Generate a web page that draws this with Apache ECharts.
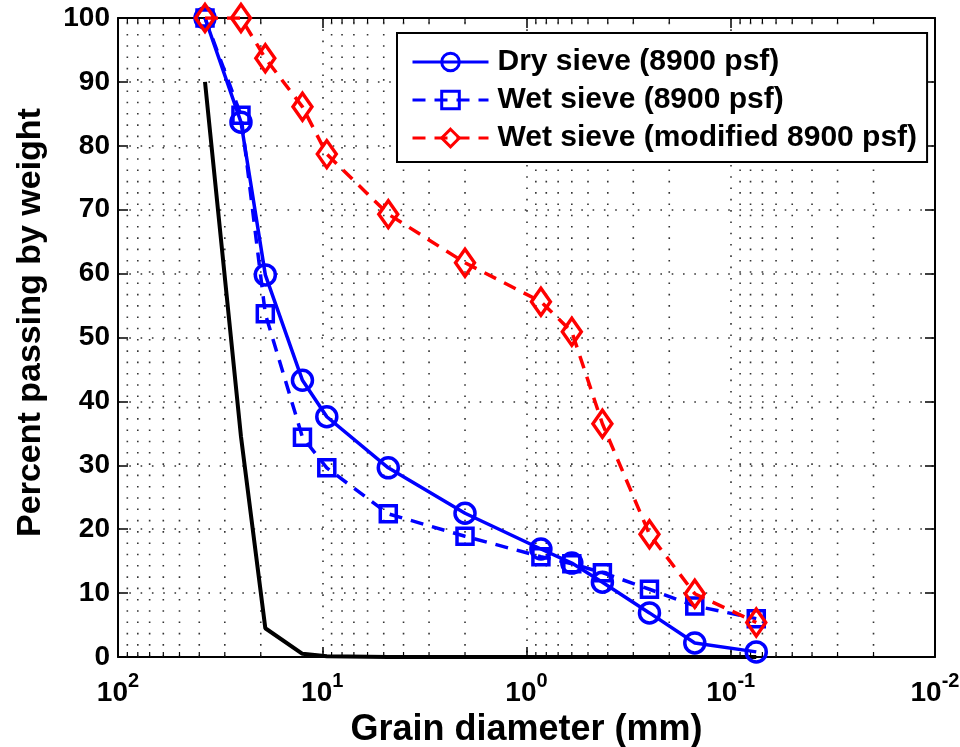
<!DOCTYPE html>
<html>
<head>
<meta charset="utf-8">
<script src="https://cdn.jsdelivr.net/npm/echarts@6/dist/echarts.min.js"></script>
<style>
html,body{margin:0;padding:0;background:#fff;overflow:hidden;}
#chart{width:960px;height:747px;}
</style>
</head>
<body>
<div id="chart"></div>
<script>
// Sieve sizes (grain diameter, mm)
const diameters = [37.5, 25, 19, 12.5, 9.5, 4.75, 2.0, 0.85, 0.6, 0.425, 0.25, 0.15, 0.075];
// Percent passing by weight
const drySieve = [100, 83.7, 59.8, 43.3, 37.6, 29.6, 22.5, 16.9, 14.7, 11.7, 6.9, 2.2, 0.8];
const wetSieve = [100, 84.8, 53.7, 34.4, 29.6, 22.4, 18.9, 15.7, 14.6, 13.2, 10.6, 8.0, 6.0];
const wetModified = [100, 100, 93.7, 86.1, 78.7, 69.3, 61.7, 55.6, 50.9, 36.5, 19.2, 9.9, 5.4];
const referenceCurve = [90, 34.5, 4.5, 0.5, 0.1, 0, 0, 0, 0, 0, 0, 0, 0];
// Series names
const seriesNames = ['Dry sieve (8900 psf)', 'Wet sieve (8900 psf)', 'Wet sieve (modified 8900 psf)'];
// Axis settings
const xMin = 0.01, xMax = 100;
const yMin = 0, yMax = 100, yStep = 10;
const xMinorTicks = [
  0.02,0.03,0.04,0.05,0.06,0.07,0.08,0.09,
  0.2,0.3,0.4,0.5,0.6,0.7,0.8,0.9,
  2,3,4,5,6,7,8,9,
  20,30,40,50,60,70,80,90
];

const FONT = 'Liberation Sans, Arial, sans-serif';
const pair = arr => diameters.map((d, i) => [d, arr[i]]);
const dotted = [1.6, 9.7];
const BLUE = '#0000ff', RED = '#ff0000';

const chart = echarts.init(document.getElementById('chart'), null, {renderer: 'canvas'});

const option = {
  animation: false,
  backgroundColor: '#fff',
  grid: {left: 118, right: 25, top: 18, bottom: 90, containLabel: false, outerBoundsMode: 'none'},
  legend: {
    data: seriesNames,
    orient: 'vertical',
    left: 397,
    top: 33,
    padding: [14, 10, 9, 14],
    itemGap: 8,
    itemWidth: 76,
    itemHeight: 22,
    backgroundColor: '#fff',
    borderColor: '#000',
    borderWidth: 2,
    borderRadius: 0,
    lineStyle: {width: 3},
    itemStyle: {borderWidth: 3},
    textStyle: {fontFamily: FONT, fontWeight: 'bold', fontSize: 30, color: '#000', padding: [0, 0, 0, 4]}
  },
  xAxis: [{
    type: 'log',
    logBase: 10,
    min: xMin,
    max: xMax,
    inverse: true,
    splitNumber: 4,
    name: 'Grain diameter (mm)',
    nameLocation: 'middle',
    nameGap: 51,
    nameTextStyle: {fontFamily: FONT, fontWeight: 'bold', fontSize: 36, color: '#000'},
    axisLine: {show: true, onZero: false, lineStyle: {color: '#000', width: 2}},
    axisTick: {show: true, inside: true, length: 10, lineStyle: {color: '#000', width: 1.5}},
    minorTick: {show: false},
    splitLine: {show: true, lineStyle: {color: '#333', width: 1.6, type: dotted}},
    axisLabel: {
      margin: 14,
      formatter: function (v) {
        const e = Math.round(Math.log10(v));
        return '{b|10}{s|' + e + '}';
      },
      rich: {
        b: {fontFamily: FONT, fontWeight: 'bold', fontSize: 28, color: '#000', lineHeight: 36, verticalAlign: 'bottom'},
        s: {fontFamily: FONT, fontWeight: 'bold', fontSize: 20, color: '#000', lineHeight: 20, verticalAlign: 'top'}
      }
    }
  }, {
    type: 'log',
    logBase: 10,
    min: xMin,
    max: xMax,
    inverse: true,
    splitNumber: 4,
    position: 'top',
    axisLine: {show: true, onZero: false, lineStyle: {color: '#000', width: 2}},
    axisTick: {show: true, inside: true, length: 10, lineStyle: {color: '#000', width: 1.5}},
    axisLabel: {show: false},
    splitLine: {show: false}
  }],
  yAxis: [{
    type: 'value',
    min: yMin,
    max: yMax,
    interval: yStep,
    name: 'Percent passing by weight',
    nameLocation: 'middle',
    nameRotate: 90,
    nameGap: 70,
    nameTextStyle: {fontFamily: FONT, fontWeight: 'bold', fontSize: 34, color: '#000', padding: [0, 0, 0, 30]},
    axisLine: {show: true, onZero: false, lineStyle: {color: '#000', width: 2}},
    axisTick: {show: true, inside: true, length: 10, lineStyle: {color: '#000', width: 1.5}},
    splitLine: {show: true, lineStyle: {color: '#333', width: 1.6, type: dotted}},
    axisLabel: {margin: 8, fontFamily: FONT, fontWeight: 'bold', fontSize: 28, color: '#000'}
  }, {
    type: 'value',
    min: yMin,
    max: yMax,
    interval: yStep,
    position: 'right',
    axisLine: {show: true, onZero: false, lineStyle: {color: '#000', width: 2}},
    axisTick: {show: true, inside: true, length: 10, lineStyle: {color: '#000', width: 1.5}},
    splitLine: {show: false},
    axisLabel: {show: false}
  }],
  series: [
    {
      type: 'custom',
      name: 'minorGrid',
      silent: true,
      z: 1,
      clip: false,
      xAxisIndex: 0,
      yAxisIndex: 0,
      data: xMinorTicks.map(v => [v, yMin]),
      renderItem: function (params, api) {
        const v = api.value(0);
        const pb = api.coord([v, yMin]);
        const pt = api.coord([v, yMax]);
        return {
          type: 'group',
          children: [
            {type: 'line', shape: {x1: pb[0], y1: pb[1], x2: pt[0], y2: pt[1]},
             style: {stroke: '#333', lineWidth: 1.6, lineDash: dotted}},
            {type: 'line', shape: {x1: pb[0], y1: pb[1], x2: pb[0], y2: pb[1] - 5},
             style: {stroke: '#000', lineWidth: 1.2}},
            {type: 'line', shape: {x1: pt[0], y1: pt[1], x2: pt[0], y2: pt[1] + 5},
             style: {stroke: '#000', lineWidth: 1.2}}
          ]
        };
      }
    },
    {
      type: 'line',
      name: 'reference',
      data: pair(referenceCurve),
      symbol: 'none',
      z: 3,
      lineStyle: {color: '#000', width: 4},
      itemStyle: {color: '#000'}
    },
    {
      type: 'line',
      name: seriesNames[0],
      data: pair(drySieve),
      symbol: 'circle',
      symbolSize: 20,
      z: 4,
      lineStyle: {color: BLUE, width: 3.5, type: 'solid'},
      itemStyle: {color: 'rgba(0,0,0,0)', borderColor: BLUE, borderWidth: 3.5}
    },
    {
      type: 'line',
      name: seriesNames[1],
      data: pair(wetSieve),
      symbol: 'rect',
      symbolSize: 16,
      z: 4,
      lineStyle: {color: BLUE, width: 3.5, type: [13, 9]},
      itemStyle: {color: 'rgba(0,0,0,0)', borderColor: BLUE, borderWidth: 3.5}
    },
    {
      type: 'line',
      name: seriesNames[2],
      data: pair(wetModified),
      symbol: 'diamond',
      symbolSize: [19, 27],
      z: 5,
      lineStyle: {color: RED, width: 3.5, type: [13, 9]},
      itemStyle: {color: 'rgba(0,0,0,0)', borderColor: RED, borderWidth: 3.5}
    }
  ]
};

chart.setOption(option);
</script>
</body>
</html>
